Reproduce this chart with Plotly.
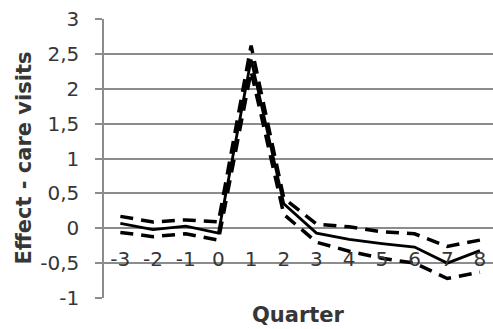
import plotly.graph_objects as go

quarters = [-3, -2, -1, 0, 1, 2, 3, 4, 5, 6, 7, 8]
effect = [0.07, -0.02, 0.03, -0.07, 2.42, 0.35, -0.07, -0.16, -0.22, -0.27, -0.50, -0.32]
upper = [0.17, 0.09, 0.12, 0.09, 2.62, 0.43, 0.06, 0.02, -0.05, -0.08, -0.26, -0.17]
lower = [-0.06, -0.12, -0.08, -0.17, 2.25, 0.20, -0.20, -0.33, -0.43, -0.50, -0.72, -0.63]
y_ticks = [-1, -0.5, 0, 0.5, 1, 1.5, 2, 2.5, 3]
y_labels = ["-1", "-0,5", "0", "0,5", "1", "1,5", "2", "2,5", "3"]

font_family = "DejaVu Sans, Verdana, sans-serif"
fs = 20
fs_title = 21
txt = "#363636"

fig = go.Figure()
fig.add_trace(go.Scatter(x=quarters, y=upper, mode="lines",
                         line=dict(color="black", width=3.5, dash="13px,8px")))
fig.add_trace(go.Scatter(x=quarters, y=lower, mode="lines",
                         line=dict(color="black", width=3.5, dash="13px,8px")))
fig.add_trace(go.Scatter(x=quarters, y=effect, mode="lines",
                         line=dict(color="black", width=2.8)))

fig.update_layout(
    width=493, height=329,
    margin=dict(l=104, r=0, t=19, b=31),
    paper_bgcolor="white", plot_bgcolor="white",
    showlegend=False,
    font=dict(family=font_family, size=fs, color=txt),
    xaxis=dict(
        range=[-3.5, 8.4],
        tickmode="array", tickvals=quarters, ticktext=[str(q) for q in quarters],
        showgrid=False, zeroline=False, showline=False, ticks="",
        anchor="free", position=0.25,
        ticklabelstandoff=17,
        tickfont=dict(family=font_family, size=fs, color=txt),
    ),
    yaxis=dict(
        range=[-1, 3],
        tickmode="array", tickvals=y_ticks, ticktext=y_labels,
        showgrid=True, gridcolor="#8c8c8c", gridwidth=1.5,
        zeroline=False,
        showline=True, linecolor="#8c8c8c", linewidth=1.5,
        ticks="outside", ticklen=7, tickcolor="#8c8c8c", tickwidth=1.5,
        ticklabelstandoff=12,
        tickfont=dict(family=font_family, size=fs, color=txt),
    ),
    annotations=[
        dict(text="<b>Quarter</b>", xref="paper", yref="paper",
             x=0.5, y=-0.061, xanchor="center", yanchor="middle", showarrow=False,
             font=dict(family=font_family, size=fs_title, color=txt)),
        dict(text="<b>Effect - care visits</b>", xref="paper", yref="paper",
             x=-0.208, y=0.5, xanchor="center", yanchor="middle", showarrow=False,
             textangle=-90,
             font=dict(family=font_family, size=fs_title, color=txt)),
    ],
)

fig.write_html("out.html")
